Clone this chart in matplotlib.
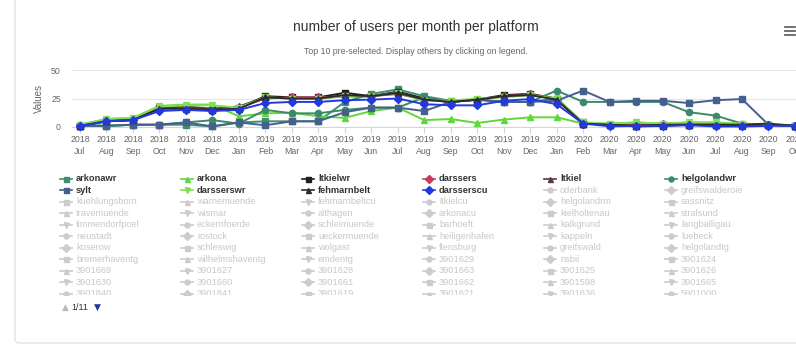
import matplotlib.pyplot as plt
from matplotlib.patches import FancyBboxPatch

plt.rcParams['font.family'] = ['Liberation Sans', 'DejaVu Sans']

# x axis categories
years = ['2018'] * 6 + ['2019'] * 12 + ['2020'] * 10
months = ['Jul', 'Aug', 'Sep', 'Oct', 'Nov', 'Dec',
          'Jan', 'Feb', 'Mar', 'Apr', 'May', 'Jun', 'Jul', 'Aug', 'Sep', 'Oct', 'Nov', 'Dec',
          'Jan', 'Feb', 'Mar', 'Apr', 'May', 'Jun', 'Jul', 'Aug', 'Sep', 'Oct']

# users per month for the pre-selected platforms
arkonawr = [1, 1, 2, 2, 2, 0.5, 4, 5, 5, 5, 22, 29, 33, 27, 23, 24, 22, 22, 25, 4, 2, 3, 2, 2, 2, 2, 2, 1]
arkona = [2, 7, 8, 18.5, 19.7, 19.7, 9.4, 12, 12.5, 9.4, 8, 14, 17, 6, 7, 3.5, 6.5, 8.5, 8.5, 3, 3, 4, 3, 4, 4, 2.5, 2, 1]
ltkielwr = [1, 5, 6, 17, 17, 15, 17, 27, 26, 26, 30, 27, 31, 25, 22, 24, 28, 29, 25, 3, 2, 0.5, 1, 2, 2, 2, 2, 1]
darssers = [1, 6, 7, 17, 17, 15, 17, 25, 26, 26, 27, 27, 29, 24, 22, 24, 27, 29, 24, 3, 2, 2, 3, 2, 2, 2, 2, 1]
ltkiel = [1, 6, 7, 17, 18, 16, 18, 26, 25, 25, 27, 27, 30, 24, 22, 24, 27, 29, 24, 3, 2, 1, 2, 2, 2, 1, 2, 1]
helgolandwr = [2, 1, 2, 2, 4, 6, 3, 15, 12, 12, 15, 17, 17, 26, 22, 24, 22, 22, 32, 22, 22, 22, 22, 13, 10, 3, 2, 1]
sylt = [1, 1, 2, 2, 4, 0.5, 4, 1.5, 5, 5, 13, 17, 17, 14, 22, 24, 22, 22, 23, 32, 22, 23, 23, 21, 23.5, 24.5, 2, 1]
darsserswr = [2, 7, 8, 18, 19, 19, 17, 26, 25, 25, 27, 27, 30, 23, 23, 25, 26, 28, 25, 4, 3, 4, 3, 4, 4, 3, 2, 1]
fehmarnbelt = [1, 5, 6, 16, 16, 15, 16, 26, 25, 25, 28, 27, 30, 24, 22, 24, 27, 28, 24, 3, 2, 1, 2, 2, 2, 2, 3, 1]
darsserscu = [1, 5, 6, 14, 15, 14, 15, 21, 22, 22, 23.5, 24, 25, 20, 19, 19, 23, 24.5, 20, 3, 0.6, 1, 1, 1.5, 0.5, 0.5, 1, 1]

active = [
    ('arkonawr', arkonawr, '#3f8f74', 's'),
    ('arkona', arkona, '#5fd83a', '^'),
    ('ltkielwr', ltkielwr, '#1e1e1e', 's'),
    ('darssers', darssers, '#c93a59', 'D'),
    ('ltkiel', ltkiel, '#5a3a3c', '^'),
    ('helgolandwr', helgolandwr, '#3d8a6a', 'o'),
    ('sylt', sylt, '#45608c', 's'),
    ('darsserswr', darsserswr, '#82df55', 'v'),
    ('fehmarnbelt', fehmarnbelt, '#2b2b2b', '^'),
    ('darsserscu', darsserscu, '#2438e0', 'D'),
]

# the rest of the legend, hidden series
hidden = ['oderbank', 'greifswalderoie',
          'kuehlungsborn', 'warnemuende', 'fehmarnbeltcu', 'ltkielcu', 'helgolandrm', 'sassnitz',
          'travemuende', 'wismar', 'althagen', 'arkonacu', 'kielholtenau', 'stralsund',
          'timmendorfpoel', 'eckernfoerde', 'schleimuende', 'barhoeft', 'kalkgrund', 'langballigau',
          'neustadt', 'rostock', 'ueckermuende', 'heiligenhafen', 'kappeln', 'luebeck',
          'koserow', 'schleswig', 'wolgast', 'flensburg', 'greifswald', 'helgolandtg',
          'bremerhaventg', 'wilhelmshaventg', 'emdentg', '3901629', 'nsbii', '3901624',
          '3901669', '3901627', '3901628', '3901663', '3901625', '3901626',
          '3901630', '3901660', '3901661', '3901662', '3901598', '3901665',
          '3901840', '3901841', '3901619', '3901621', '3901636', '5901000']

W, H = 796, 346
fig = plt.figure(figsize=(W / 100, H / 100), dpi=100)

# background layer in pixel coordinates
bg = fig.add_axes([0, 0, 1, 1])
bg.set_xlim(0, W)
bg.set_ylim(H, 0)
bg.axis('off')
bg.add_patch(FancyBboxPatch((15, -20), 800, 363, boxstyle='round,pad=0,rounding_size=4',
                            fc='white', ec='#dcdcdc', lw=0.8))
bg.text(416, 27, 'number of users per month per platform', ha='center', va='center',
        fontsize=10, color='#333333')
bg.text(416, 51, 'Top 10 pre-selected. Display others by clicking on legend.', ha='center',
        va='center', fontsize=6.3, color='#666666')
for yy in (27, 31, 35):
    bg.plot([785, 795], [yy, yy], color='#666666', lw=1.3)

# pagination under the legend
bg.text(62, 307, '\u25b2', ha='left', va='center', fontsize=6.5, color='#bbbbbb',
        family='DejaVu Sans')
bg.text(71, 307, '1/11', ha='left', va='center', fontsize=6.5, color='#333333')
bg.text(94, 307, '\u25bc', ha='left', va='center', fontsize=6.5, color='#1a3a9a',
        family='DejaVu Sans')

# main plot
x0, x1, ytop, ybot = 72, 812, 70, 127
step = 26.48
ax = fig.add_axes([x0 / W, 1 - ybot / H, (x1 - x0) / W, (ybot - ytop) / H])
ax.set_facecolor('none')
xs = list(range(len(months)))
for name, vals, col, mk in active:
    ax.plot(xs, vals, color=col, lw=1.4, marker=mk, ms=4.5, clip_on=False, zorder=3)
ax.set_xlim((x0 - 80) / step, (x1 - 80) / step)
ax.set_ylim(0, 50)
ax.set_yticks([0, 25, 50])
ax.grid(axis='y', color='#e6e6e6', lw=0.8)
ax.set_axisbelow(True)
ax.set_xticks(xs)
ax.set_xticklabels([f'{y}\n{m}' for y, m in zip(years, months)], fontsize=6.3,
                   color='#666666', linespacing=1.35)
ax.tick_params(axis='x', length=4, color='#ccd6eb', pad=2)
ax.tick_params(axis='y', length=0, labelsize=6.3, labelcolor='#666666', pad=8)
for s in ('top', 'right', 'left'):
    ax.spines[s].set_visible(False)
ax.spines['bottom'].set_color('#ccd6eb')
ax.set_ylabel('Values', fontsize=7, color='#666666')
ax.yaxis.set_label_coords(-(x0 - 44) / (x1 - x0), 0.5)

# legend, six columns, clipped at the bottom
leg_top, leg_bot = 170, 295
lg = fig.add_axes([0, 1 - leg_bot / H, 1, (leg_bot - leg_top) / H])
lg.set_xlim(0, W)
lg.set_ylim(leg_bot, leg_top)
lg.axis('off')
items = [(n, c, m, True) for n, _, c, m in active]
shapes = ['o', 'D', 's', '^', 'v']
items += [(n, '#cccccc', shapes[i % 5], False) for i, n in enumerate(hidden)]
for i, (name, col, mk, on) in enumerate(items):
    r, c = divmod(i, 6)
    tx = 76 + 121.0 * c
    ty = 178.5 + 11.55 * r
    lg.plot([tx - 16, tx - 4], [ty, ty], color=col, lw=1.2)
    lg.plot([tx - 10], [ty], color=col, marker=mk, ms=3.6)
    lg.text(tx, ty, name, ha='left', va='center', fontsize=6.7, clip_on=True,
            color='#333333' if on else '#c8c8c8', fontweight='bold' if on else 'normal')

fig.savefig('out.png', dpi=100)
